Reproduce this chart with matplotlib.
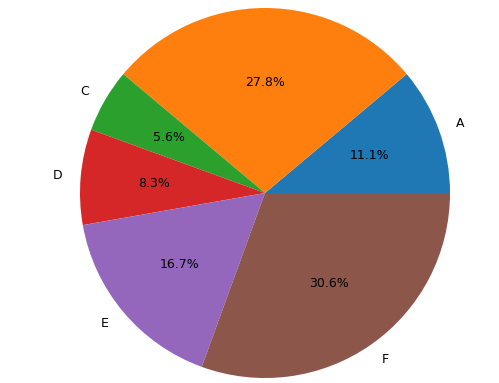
import matplotlib
matplotlib.use("Agg")
import matplotlib.pyplot as plt

labels = ['A', 'B', 'C', 'D', 'E', 'F']
sizes = [4, 10, 2, 3, 6, 11]

plt.rcParams['font.size'] = 9

fig = plt.figure(figsize=(4.99, 3.83), dpi=100)
ax = fig.add_axes([0, 0, 1, 1])
ax.pie(sizes, labels=labels, autopct='%1.1f%%')
# pie centre sits at (265, 193) px with radius ~185 px
r = 185.0
ax.set_xlim(-265 / r, 234 / r)
ax.set_ylim(-190 / r, 193 / r)
ax.set_aspect('auto')
ax.axis('off')

fig.savefig('out.png', dpi=100)
